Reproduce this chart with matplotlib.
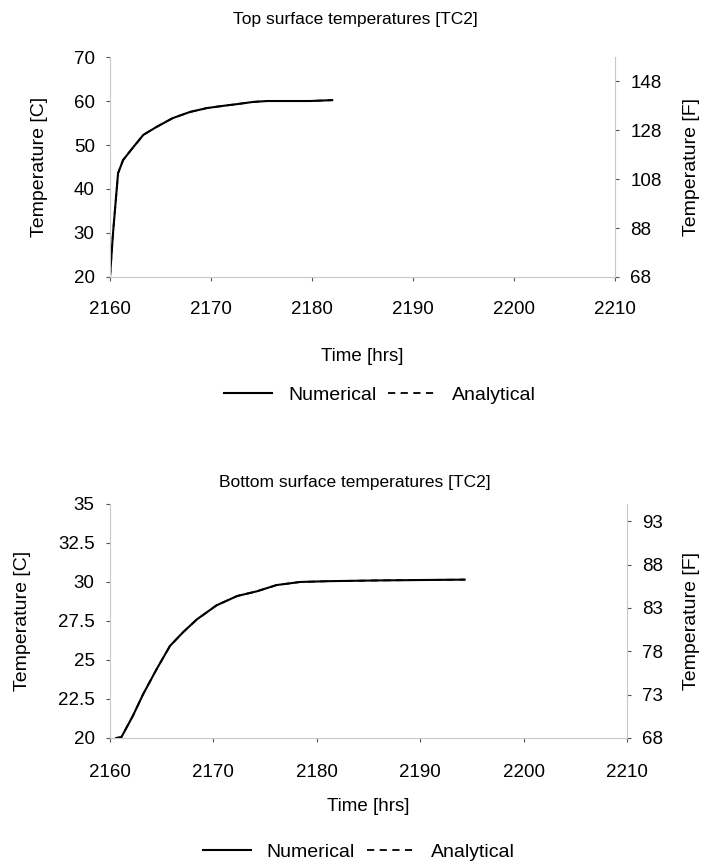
import matplotlib
matplotlib.use('Agg')
import matplotlib.pyplot as plt

plt.rcParams['font.family'] = ['Liberation Sans', 'DejaVu Sans']

# top surface (TC2)
topTime = [2160.0, 2160.3, 2160.8, 2161.3, 2162.3, 2163.3, 2164.6, 2166.2,
           2167.9, 2169.6, 2171.2, 2172.6, 2174.2, 2175.6, 2179.8, 2182.0]
topNum = [20.0, 30.0, 43.6, 46.6, 49.5, 52.3, 54.1, 56.1,
          57.5, 58.4, 58.9, 59.3, 59.8, 60.0, 60.0, 60.2]
topAna = topNum

# bottom surface (TC2)
botTime = [2160.6, 2161.1, 2162.2, 2163.2, 2164.5, 2165.8, 2167.1, 2168.4,
           2170.3, 2172.3, 2174.2, 2176.1, 2178.4, 2181.1, 2186.1, 2194.3]
botNum = [20.0, 20.05, 21.4, 22.8, 24.4, 25.9, 26.8, 27.6,
          28.5, 29.1, 29.4, 29.8, 30.0, 30.05, 30.1, 30.15]
botAna = botNum

topCTicks = [20, 30, 40, 50, 60, 70]
topFTicks = [68, 88, 108, 128, 148]
botCTicks = [20, 22.5, 25, 27.5, 30, 32.5, 35]
botFTicks = [68, 73, 78, 83, 88, 93]
xTicks = [2160, 2170, 2180, 2190, 2200, 2210]


def c2f(c):
    return c * 9.0 / 5.0 + 32


def fmt(v):
    return ('%g' % v)


def styleAxis(ax, xpad):
    ax.spines['top'].set_visible(False)
    ax.spines['right'].set_visible(False)
    for s in ['left', 'bottom']:
        ax.spines[s].set_color('#c8c8c8')
        ax.spines[s].set_linewidth(0.8)
    ax.tick_params(labelsize=13.5, length=3, color='#555555', pad=8)
    ax.tick_params(axis='x', pad=xpad)


def styleTwin(tw):
    for s in ['top', 'left', 'bottom']:
        tw.spines[s].set_visible(False)
    tw.spines['right'].set_color('#c8c8c8')
    tw.spines['right'].set_linewidth(0.8)
    tw.tick_params(labelsize=13.5, length=3, color='#555555', pad=8)


fig = plt.figure(figsize=(7.06, 8.68), dpi=100)

# ---- top panel
ax1 = fig.add_axes([0.1558, 0.6809, 0.7153, 0.2534])
ln1, = ax1.plot(topTime, topNum, 'k-', lw=1.5, label='Numerical')
ln2, = ax1.plot(topTime, topAna, 'k--', lw=1.3, dashes=(4, 3), label='Analytical')
ax1.set_xlim(2160, 2210)
ax1.set_ylim(20, 70)
ax1.set_xticks(xTicks)
ax1.set_yticks(topCTicks)
ax1.set_yticklabels([fmt(v) for v in topCTicks])
ax1.set_xlabel('Time [hrs]', fontsize=13.5, labelpad=22)
ax1.set_ylabel('Temperature [C]', fontsize=14)
ax1.yaxis.set_label_coords(-0.123, 0.5)
styleAxis(ax1, 14)

tw1 = ax1.twinx()
tw1.set_ylim(c2f(20), c2f(70))
tw1.set_yticks(topFTicks)
tw1.set_ylabel('Temperature [F]', fontsize=14)
tw1.yaxis.set_label_coords(1.135, 0.5)
styleTwin(tw1)

fig.text(0.503, 0.977, 'Top surface temperatures [TC2]', ha='center', va='center', fontsize=12.5)
fig.legend(handles=[ln1, ln2], loc='center', bbox_to_anchor=(0.538, 0.545), ncol=2,
           frameon=False, fontsize=14, handlelength=2.5, columnspacing=0.6)

# ---- bottom panel
ax2 = fig.add_axes([0.1558, 0.1498, 0.7323, 0.2696])
ln3, = ax2.plot(botTime, botNum, 'k-', lw=1.5, label='Numerical')
ln4, = ax2.plot(botTime, botAna, 'k--', lw=1.3, dashes=(4, 3), label='Analytical')
ax2.set_xlim(2160, 2210)
ax2.set_ylim(20, 35)
ax2.set_xticks(xTicks)
ax2.set_yticks(botCTicks)
ax2.set_yticklabels([fmt(v) for v in botCTicks])
ax2.set_xlabel('Time [hrs]', fontsize=13.5, labelpad=12)
ax2.set_ylabel('Temperature [C]', fontsize=14)
ax2.yaxis.set_label_coords(-0.153, 0.5)
styleAxis(ax2, 16)

tw2 = ax2.twinx()
tw2.set_ylim(c2f(20), c2f(35))
tw2.set_yticks(botFTicks)
tw2.set_ylabel('Temperature [F]', fontsize=14)
tw2.yaxis.set_label_coords(1.108, 0.5)
styleTwin(tw2)

fig.text(0.503, 1 - 483 / 868, 'Bottom surface temperatures [TC2]', ha='center', va='center', fontsize=12.5)
fig.legend(handles=[ln3, ln4], loc='center', bbox_to_anchor=(0.508, 0.0184), ncol=2,
           frameon=False, fontsize=14, handlelength=2.5, columnspacing=0.6)

fig.savefig('out.png', dpi=100)
